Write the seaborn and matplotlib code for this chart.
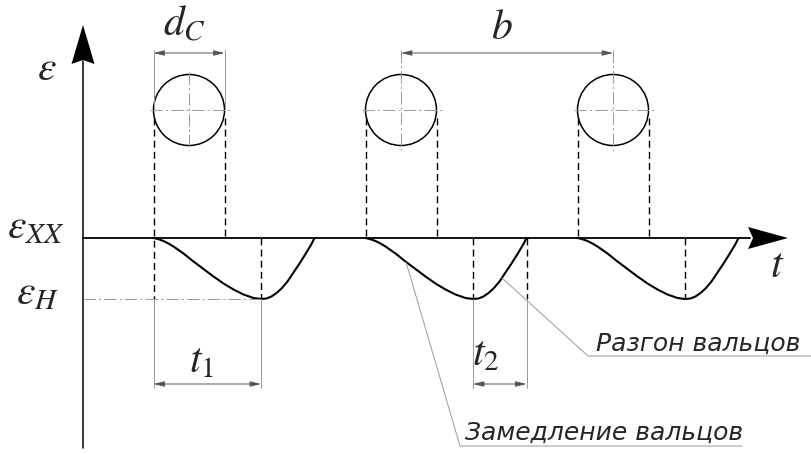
import numpy as np
import pandas as pd
import matplotlib
matplotlib.use("Agg")
import matplotlib.pyplot as plt
from matplotlib.patches import Circle, Polygon
import seaborn as sns

# Roll centres along the time axis and roll radius (drawing units)
roll_x = [189, 401, 613]
roll_y = 110
roll_r = 35.5

# Strain levels: idle run and loaded
eps_xx = 238
eps_h = 299

# Axes extents
axis_x = 83
axis_bottom = 448
axis_top = 25
axis_right = 788

# One dip of the strain curve: offset from roll leading edge, drop below idle level
dip_dx = [0, 5, 10, 15, 20, 30, 40, 50, 60, 70, 80, 90, 100, 107.5,
          113, 118, 123, 128, 134, 140, 146, 152, 158, 161]
dip_dy = [0, 1.2, 3, 5.5, 8.5, 15.5, 23.5, 31, 38.5, 45.5, 51.5, 56.5, 60, 61,
          60.5, 58.5, 55, 50.5, 43.5, 34.5, 25.5, 16, 6, 0]

# Text
label_eps = r"$\varepsilon$"
label_xx = r"$\varepsilon_{XX}$"
label_h = r"$\varepsilon_{H}$"
label_t = r"$t$"
label_dc = r"$d_{C}$"
label_b = r"$b$"
label_t1 = r"$t_{1}$"
label_t2 = r"$t_{2}$"
note_up = "Разгон вальцов"
note_down = "Замедление вальцов"

sns.set_theme(style="white")
plt.rcParams["mathtext.fontset"] = "stix"
plt.rcParams["lines.scale_dashes"] = False
plt.rcParams["font.family"] = ["DejaVu Sans"]

W, H = 811, 454
fig = plt.figure(figsize=(W / 100, H / 100), dpi=100)
ax = fig.add_axes([0, 0, 1, 1])

# Strain curve dips, one per roll
dip_min = dip_dx[int(np.argmax(dip_dy))]
dip_end = dip_dx[-1]
rows = []
for i, cx in enumerate(roll_x):
    x0 = cx - roll_r
    for dx, dy in zip(dip_dx, dip_dy):
        rows.append({"roll": i, "x": x0 + dx, "y": eps_xx + dy})
df = pd.DataFrame(rows)
sns.lineplot(data=df, x="x", y="y", units="roll", estimator=None, sort=False,
             color="black", lw=1.5, ax=ax, legend=False)

K = "black"
G = "#9a9a9a"
thin = 0.7
dash = (0, (5, 3))
dashdot = (0, (9, 2.2, 1.5, 2.2))

# Axes with arrowheads
ax.plot([axis_x, axis_x], [axis_bottom, axis_top + 36], color=K, lw=1.1)
ax.plot([axis_x, axis_right - 38], [eps_xx, eps_xx], color=K, lw=1.3)
ax.add_patch(Polygon([[axis_x, axis_top], [axis_x - 11.5, axis_top + 39],
                      [axis_x, axis_top + 35], [axis_x + 11.5, axis_top + 39]],
                     closed=True, color=K, lw=0))
ax.add_patch(Polygon([[axis_right, eps_xx], [axis_right - 40, eps_xx - 11],
                      [axis_right - 35, eps_xx], [axis_right - 40, eps_xx + 11]],
                     closed=True, color=K, lw=0))

# Rolls with centre marks
for i, cx in enumerate(roll_x):
    ax.add_patch(Circle((cx, roll_y), roll_r, fill=False, ec=K, lw=1.1))
    ax.plot([cx - roll_r - 4, cx + roll_r + 5], [roll_y, roll_y],
            color=G, lw=thin, ls=dashdot)
    top = roll_y - roll_r - 3 if i == 0 else 50
    ax.plot([cx, cx], [top, roll_y + roll_r + 4], color=G, lw=thin, ls=dashdot)

# Projection lines from roll edges down to the strain curve
for i, cx in enumerate(roll_x):
    xl, xr = cx - roll_r, cx + roll_r
    ax.plot([xl, xl], [roll_y + 8, eps_h if i == 0 else eps_xx], color=K, lw=1.0, ls=dash)
    ax.plot([xr, xr], [roll_y + 8, eps_xx], color=K, lw=1.0, ls=dash)
    xm = xl + dip_min
    ax.plot([xm, xm], [eps_xx, eps_h], color=K, lw=1.0, ls=dash)
    if i == 1:
        xe = xl + dip_end
        ax.plot([xe, xe], [eps_xx, eps_h], color=K, lw=1.0, ls=dash)

# Loaded level reference line
ax.plot([axis_x, roll_x[0] - roll_r + dip_min], [eps_h, eps_h], color=G, lw=thin, ls=dashdot)


def dim(x1, x2, y):
    ax.annotate("", xy=(x1, y), xytext=(x2, y),
                arrowprops=dict(arrowstyle="<|-|>,head_length=0.8,head_width=0.2",
                                mutation_scale=8, lw=thin, color="#555555",
                                shrinkA=0, shrinkB=0))


# Dimension d_C and b
xl0, xr0 = roll_x[0] - roll_r, roll_x[0] + roll_r
for x in (xl0, xr0):
    ax.plot([x, x], [50, roll_y], color=G, lw=thin)
dim(xl0, xr0, 53)
dim(roll_x[1], roll_x[2], 53)

# Dimensions t1 and t2
t1a, t1b = xl0, xl0 + dip_min
t2a, t2b = roll_x[1] - roll_r + dip_min, roll_x[1] - roll_r + dip_end
for x in (t1a, t1b, t2a, t2b):
    ax.plot([x, x], [eps_h, 388], color=G, lw=thin)
dim(t1a, t1b, 384)
dim(t2a, t2b, 384)

# Leaders for the notes
ax.plot([502, 588, W], [278, 356, 356], color=G, lw=thin)
ax.plot([406, 460, 742], [262, 446, 446], color=G, lw=thin)

# Labels
mfs = 30
ax.text(47, 68, label_eps, fontsize=mfs, ha="center", va="center")
ax.text(36, 226, label_xx, fontsize=mfs, ha="center", va="center")
ax.text(37, 292, label_h, fontsize=mfs, ha="center", va="center")
ax.text(777, 265, label_t, fontsize=mfs, ha="center", va="center")
ax.text(184, 24, label_dc, fontsize=mfs, ha="center", va="center")
ax.text(502, 27, label_b, fontsize=mfs, ha="center", va="center")
ax.text(202, 360, label_t1, fontsize=mfs, ha="center", va="center")
ax.text(486, 353, label_t2, fontsize=mfs, ha="center", va="center")

nfs = 18
ax.text(596, 351, note_up, fontsize=nfs, style="italic", fontweight="light",
        ha="left", va="baseline")
ax.text(465, 440, note_down, fontsize=nfs, style="italic", fontweight="light",
        ha="left", va="baseline")

ax.set_xlim(0, W)
ax.set_ylim(H, 0)
ax.axis("off")
fig.savefig("out.png", dpi=100, facecolor="white")
